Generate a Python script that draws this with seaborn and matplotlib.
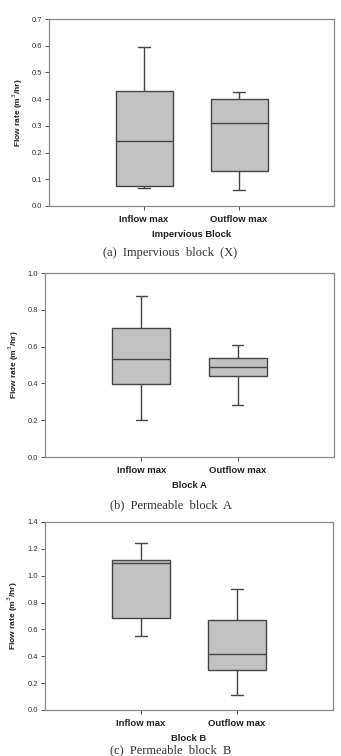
import numpy as np
import pandas as pd
import seaborn as sns
import matplotlib
matplotlib.use("Agg")
import matplotlib.pyplot as plt

# box statistics: [low whisker, Q1, median, Q3, high whisker]
groups = ["Inflow max", "Outflow max"]

imperv_in = [0.068, 0.073, 0.245, 0.430, 0.595]
imperv_out = [0.060, 0.130, 0.310, 0.400, 0.427]

blockA_in = [0.200, 0.395, 0.530, 0.700, 0.877]
blockA_out = [0.282, 0.440, 0.490, 0.540, 0.610]

blockB_in = [0.550, 0.682, 1.098, 1.117, 1.247]
blockB_out = [0.115, 0.300, 0.418, 0.672, 0.900]

xlabels = ["Impervious Block", "Block A", "Block B"]
captions = ["(a)  Impervious  block  (X)", "(b)  Permeable  block  A", "(c)  Permeable  block  B"]
ymax = [0.7, 1.0, 1.4]
ystep = [0.1, 0.2, 0.2]

sns.set_style("white")
plt.rcParams["font.family"] = ["Liberation Sans", "DejaVu Sans"]

W, H = 341, 756
fig = plt.figure(figsize=(W / 100, H / 100), dpi=100)

# axes boxes in pixels: left, top, right, bottom
boxes = [(49, 19, 334, 206), (45, 273, 334, 457), (45, 522, 333, 710)]
caption_y = [253, 505, 750]

panels = [(imperv_in, imperv_out), (blockA_in, blockA_out), (blockB_in, blockB_out)]

for i, (vin, vout) in enumerate(panels):
    l, t, r, b = boxes[i]
    ax = fig.add_axes([l / W, 1 - b / H, (r - l) / W, (b - t) / H])
    df = pd.DataFrame({"group": [groups[0]] * len(vin) + [groups[1]] * len(vout),
                       "flow": vin + vout})
    sns.boxplot(data=df, x="group", y="flow", ax=ax, whis=(0, 100),
                color="#c2c2c2", saturation=1, width=0.6, linewidth=1.0,
                linecolor="#454545", capwidths=0.12, fliersize=0)
    ax.set_xlim(-1, 2)
    ax.set_ylim(0, ymax[i])
    ax.set_yticks(np.round(np.arange(0, ymax[i] + 1e-9, ystep[i]), 1))
    ax.yaxis.set_major_formatter(matplotlib.ticker.FormatStrFormatter("%.1f"))
    for s in ax.spines.values():
        s.set_color("#8a8a8a")
        s.set_linewidth(0.9)
    ax.tick_params(axis="y", direction="out", length=3, width=0.7, color="#555555",
                   labelsize=5.5, pad=2, left=True, labelcolor="#333333")
    ax.tick_params(axis="x", direction="out", length=3, width=0.7, color="#555555",
                   labelsize=6.8, pad=3.5, bottom=True, labelcolor="#222222")
    for lab in ax.get_xticklabels():
        lab.set_fontweight("bold")
    ax.set_xlabel(xlabels[i], fontsize=6.8, fontweight="bold", labelpad=4, color="#222222")
    ax.set_ylabel(r"Flow rate (m$^3$/hr)", fontsize=6, fontweight="bold",
                  labelpad=5, color="#222222")
    fig.text(0.5, 1 - caption_y[i] / H, captions[i], ha="center", va="center",
             fontsize=9, family=["Liberation Serif", "DejaVu Serif"], color="#333333")

fig.savefig("out.png", dpi=100)
